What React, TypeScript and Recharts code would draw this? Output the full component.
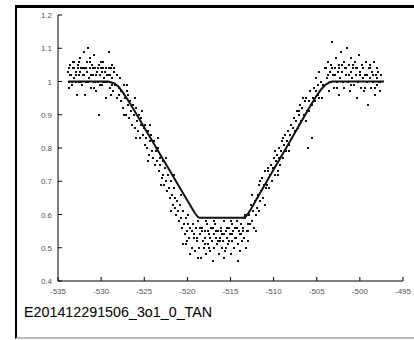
import React from 'react';
import { ScatterChart, Scatter, XAxis, YAxis } from 'recharts';

// axis ticks
const xTicks = [-535, -530, -525, -520, -515, -510, -505, -500, -495];
const yTicks = [0.4, 0.5, 0.6, 0.7, 0.8, 0.9, 1, 1.1, 1.2];

const preIngress: [number, number][] = [
    [-533.83, 1.03], [-533.71, 1.0], [-533.64, 1.05], [-533.52, 1.02], [-533.38, 0.99], [-533.31, 1.04], [-533.17, 1.01], [-533.09, 1.06], [-532.97, 1.0], [-532.88, 1.03],
    [-532.76, 0.96], [-532.69, 1.05], [-532.57, 1.02], [-532.46, 1.0], [-532.42, 1.07], [-532.28, 1.04], [-532.19, 0.99], [-532.07, 1.02], [-531.98, 1.09], [-531.91, 1.04],
    [-531.78, 1.0], [-531.69, 1.06], [-531.61, 1.03], [-531.48, 1.1], [-531.37, 1.01], [-531.29, 1.04], [-531.22, 0.98], [-531.08, 1.05], [-530.99, 1.02], [-530.87, 1.0],
    [-530.81, 1.08], [-530.68, 1.04], [-530.59, 0.97], [-530.51, 1.03], [-530.38, 1.0], [-530.27, 0.9], [-530.19, 1.05], [-530.11, 1.02], [-529.98, 1.04], [-529.87, 0.99],
    [-529.82, 1.06], [-529.69, 1.01], [-529.58, 1.03], [-529.47, 0.95], [-529.41, 1.04], [-529.28, 1.0], [-529.21, 1.02], [-529.09, 1.09], [-528.98, 0.98], [-528.91, 1.04],
    [-528.78, 1.01], [-528.72, 1.05], [-528.59, 0.97], [-528.48, 1.03],
    [-533.77, 1.04], [-533.58, 1.02], [-533.34, 1.0], [-533.13, 1.04], [-532.93, 1.02], [-532.72, 1.04], [-532.53, 1.06], [-532.33, 1.0], [-532.14, 1.04], [-531.94, 1.02],
    [-531.73, 1.04], [-531.56, 1.0], [-531.33, 1.06], [-531.14, 1.02], [-530.94, 1.04], [-530.73, 1.0], [-530.56, 1.02], [-530.33, 1.04], [-530.16, 0.99], [-529.93, 1.03],
    [-529.74, 1.04], [-529.53, 1.0], [-529.36, 1.02], [-529.13, 1.04], [-528.94, 1.02], [-528.74, 0.99], [-528.53, 1.04],
    [-533.67, 0.98], [-532.62, 1.0], [-531.84, 0.96], [-530.86, 0.98], [-529.84, 1.0], [-528.86, 0.96], [-533.23, 1.06], [-531.26, 1.07], [-530.03, 1.06], [-532.44, 1.03],
];

const ingress: [number, number][] = [
    [-528.37, 0.99], [-528.21, 1.02], [-528.12, 0.95], [-527.98, 0.98], [-527.83, 1.01], [-527.71, 0.94], [-527.64, 0.97], [-527.52, 0.92], [-527.38, 0.99], [-527.27, 0.95],
    [-527.15, 0.9], [-527.04, 0.97], [-526.93, 0.93], [-526.86, 0.96], [-526.72, 0.89], [-526.61, 0.94], [-526.53, 0.91], [-526.39, 0.87], [-526.28, 0.93], [-526.17, 0.9],
    [-526.05, 0.86], [-525.96, 0.92], [-525.84, 0.88], [-525.73, 0.85], [-525.62, 0.9], [-525.55, 0.83], [-525.41, 0.87], [-525.33, 0.89], [-525.19, 0.84], [-525.08, 0.86],
    [-524.97, 0.81], [-524.88, 0.87], [-524.74, 0.83], [-524.66, 0.8], [-524.52, 0.85], [-524.43, 0.78], [-524.31, 0.82], [-524.22, 0.84], [-524.09, 0.79], [-523.98, 0.77],
    [-523.87, 0.82], [-523.79, 0.75], [-523.65, 0.79], [-523.54, 0.76], [-523.46, 0.8], [-523.32, 0.73], [-523.21, 0.77], [-523.13, 0.75], [-522.99, 0.71], [-522.88, 0.76],
    [-522.77, 0.72], [-522.69, 0.69], [-522.56, 0.74], [-522.44, 0.7], [-522.36, 0.67], [-522.23, 0.72], [-522.14, 0.68], [-522.02, 0.65], [-521.91, 0.7], [-521.83, 0.66],
    [-521.71, 0.63], [-521.6, 0.68], [-521.48, 0.62], [-521.39, 0.65], [-521.27, 0.6], [-521.16, 0.64], [-521.07, 0.61], [-520.95, 0.58], [-520.84, 0.63], [-520.76, 0.59],
    [-520.63, 0.56], [-520.52, 0.61], [-520.41, 0.57], [-520.33, 0.54], [-520.21, 0.59], [-520.1, 0.55], [-520.02, 0.52], [-519.89, 0.57], [-519.78, 0.53], [-519.66, 0.56],
    [-527.9, 0.96], [-526.98, 0.99], [-526.12, 0.95], [-525.22, 0.91], [-524.35, 0.87], [-523.42, 0.83], [-522.5, 0.77], [-521.55, 0.72], [-520.7, 0.66], [-519.95, 0.6],
    [-527.35, 0.9], [-525.9, 0.83], [-524.6, 0.76], [-523.05, 0.69], [-521.95, 0.61], [-520.45, 0.51],
];

const bottom: [number, number][] = [
    [-519.52, 0.55], [-519.41, 0.5], [-519.33, 0.57], [-519.19, 0.53], [-519.08, 0.49], [-518.97, 0.56], [-518.86, 0.52], [-518.78, 0.58], [-518.64, 0.5], [-518.53, 0.54],
    [-518.45, 0.47], [-518.31, 0.56], [-518.22, 0.52], [-518.11, 0.5], [-517.99, 0.55], [-517.92, 0.53], [-517.81, 0.48], [-517.68, 0.57], [-517.6, 0.51], [-517.49, 0.54],
    [-517.37, 0.49], [-517.29, 0.56], [-517.18, 0.52], [-517.06, 0.46], [-516.97, 0.54], [-516.88, 0.5], [-516.76, 0.57], [-516.65, 0.53], [-516.57, 0.51], [-516.44, 0.55],
    [-516.36, 0.48], [-516.24, 0.53], [-516.13, 0.56], [-516.02, 0.5], [-515.94, 0.54], [-515.83, 0.52], [-515.71, 0.58], [-515.62, 0.49], [-515.53, 0.55], [-515.41, 0.53],
    [-515.3, 0.51], [-515.21, 0.56], [-515.09, 0.54], [-514.98, 0.48], [-514.87, 0.57], [-514.79, 0.52], [-514.66, 0.55], [-514.57, 0.5], [-514.45, 0.56], [-514.34, 0.53],
    [-514.26, 0.58], [-514.14, 0.51], [-514.03, 0.55], [-513.95, 0.49], [-513.82, 0.57], [-513.73, 0.54], [-513.61, 0.52], [-513.52, 0.56], [-513.4, 0.53], [-513.31, 0.59],
    [-513.22, 0.5], [-513.1, 0.55], [-513.02, 0.57], [-519.27, 0.54], [-518.92, 0.53], [-518.58, 0.56], [-518.27, 0.55], [-517.95, 0.51], [-517.63, 0.55], [-517.33, 0.53],
    [-517.02, 0.56], [-516.71, 0.55], [-516.42, 0.52], [-516.07, 0.55], [-515.78, 0.54], [-515.46, 0.56], [-515.16, 0.52], [-514.83, 0.54], [-514.5, 0.53], [-514.2, 0.56],
    [-513.88, 0.54], [-513.56, 0.55], [-518.72, 0.47], [-517.86, 0.58], [-516.93, 0.58], [-515.75, 0.47], [-514.9, 0.58], [-514.08, 0.46], [-513.27, 0.6], [-517.53, 0.5],
    [-516.18, 0.52], [-515.48, 0.5], [-520.15, 0.51], [-519.7, 0.48], [-512.95, 0.52],
];

const egress: [number, number][] = [
    [-512.92, 0.55], [-512.81, 0.6], [-512.73, 0.57], [-512.62, 0.63], [-512.48, 0.58], [-512.39, 0.61], [-512.27, 0.56], [-512.18, 0.64], [-512.06, 0.6], [-511.97, 0.62],
    [-511.85, 0.66], [-511.74, 0.61], [-511.66, 0.69], [-511.53, 0.64], [-511.42, 0.67], [-511.31, 0.71], [-511.22, 0.65], [-511.09, 0.69], [-510.98, 0.73], [-510.87, 0.68],
    [-510.76, 0.69], [-510.64, 0.73], [-510.55, 0.68], [-510.43, 0.72], [-510.31, 0.75], [-510.22, 0.7], [-510.1, 0.74], [-509.99, 0.77], [-509.88, 0.72], [-509.77, 0.76],
    [-509.63, 0.78], [-509.55, 0.73], [-509.42, 0.77], [-509.34, 0.8], [-509.21, 0.75], [-509.1, 0.79], [-508.98, 0.82], [-508.87, 0.77], [-508.76, 0.81], [-508.64, 0.84],
    [-508.53, 0.79], [-508.41, 0.82], [-508.32, 0.85], [-508.19, 0.81], [-508.08, 0.84], [-507.96, 0.87], [-507.85, 0.83], [-507.74, 0.86], [-507.62, 0.89], [-507.51, 0.85],
    [-507.43, 0.88], [-507.3, 0.91], [-507.19, 0.86], [-507.07, 0.9], [-506.95, 0.93], [-506.84, 0.88], [-506.73, 0.92], [-506.61, 0.95], [-506.52, 0.9], [-506.4, 0.94],
    [-506.28, 0.95], [-506.17, 0.91], [-506.03, 0.8], [-505.94, 0.94], [-505.82, 0.97], [-505.71, 0.93], [-505.6, 0.83], [-505.48, 0.95], [-505.37, 0.98], [-505.26, 0.94],
    [-505.14, 0.97], [-505.03, 1.01], [-504.91, 0.96], [-504.8, 0.99], [-504.69, 1.03], [-504.57, 0.97], [-504.46, 1.0], [-504.34, 0.95], [-504.22, 0.99], [-504.1, 1.04],
    [-512.55, 0.66], [-511.6, 0.7], [-510.7, 0.74], [-509.8, 0.79], [-508.9, 0.83], [-508.0, 0.87], [-507.1, 0.91], [-506.3, 0.88], [-505.5, 0.93], [-504.7, 0.95],
    [-512.1, 0.55], [-510.95, 0.63], [-509.5, 0.72], [-508.2, 0.79], [-507.0, 0.87], [-505.9, 0.91],
];

const postEgress: [number, number][] = [
    [-503.92, 1.04], [-503.83, 1.01], [-503.69, 1.06], [-503.61, 0.97], [-503.48, 1.03], [-503.37, 1.0], [-503.31, 1.05], [-503.18, 1.12], [-503.07, 1.02], [-502.98, 0.98],
    [-502.89, 1.04], [-502.77, 1.07], [-502.68, 1.0], [-502.59, 1.03], [-502.47, 0.96], [-502.38, 1.05], [-502.29, 1.01], [-502.17, 1.09], [-502.08, 1.03], [-501.97, 1.0],
    [-501.88, 1.06], [-501.79, 0.98], [-501.68, 1.04], [-501.57, 1.02], [-501.49, 1.1], [-501.38, 1.0], [-501.27, 1.05], [-501.19, 0.97], [-501.07, 1.03], [-500.98, 1.07],
    [-500.88, 1.01], [-500.77, 1.04], [-500.69, 0.99], [-500.58, 1.06], [-500.47, 1.02], [-500.39, 0.95], [-500.28, 1.04], [-500.17, 1.0], [-500.08, 1.08], [-499.97, 1.03],
    [-499.88, 0.98], [-499.79, 1.05], [-499.67, 1.01], [-499.58, 1.04], [-499.47, 0.97], [-499.39, 1.02], [-499.28, 1.06], [-499.18, 1.0], [-499.07, 0.93], [-498.98, 1.04],
    [-498.87, 1.01], [-498.78, 1.05], [-498.67, 0.98], [-498.58, 1.03], [-498.49, 1.0], [-498.37, 1.06], [-498.29, 0.96], [-498.18, 1.02], [-498.07, 1.04], [-497.98, 0.99],
    [-497.87, 1.03], [-497.79, 1.0], [-497.68, 0.97], [-497.57, 1.02],
    [-503.64, 1.02], [-503.23, 1.04], [-502.84, 1.02], [-502.43, 1.04], [-502.03, 1.05], [-501.63, 1.04], [-501.23, 1.02], [-500.83, 1.05], [-500.43, 1.04], [-500.03, 1.02],
    [-499.63, 1.04], [-499.23, 1.02], [-498.83, 1.04], [-498.43, 1.02], [-498.03, 1.01], [-497.63, 1.0], [-502.63, 0.98], [-501.03, 0.99], [-499.43, 0.98], [-498.23, 0.98],
];

// fitted transit model
const modelTime = [-533.8, -529.2, -528.5, -528, -527.5, -527, -526.5, -526, -525, -524, -523, -522, -521, -520, -519.5, -519.1, -518.8, -518.6,
    -513.5, -513.2, -512.9, -512.5, -512, -511, -510, -509, -508, -507, -506, -505.5, -505, -504.5, -504, -503.5, -503.2, -497.2];
const modelFlux = [1, 1, 0.995, 0.985, 0.968, 0.948, 0.928, 0.906, 0.862, 0.818, 0.774, 0.73, 0.686, 0.642, 0.62, 0.603, 0.593, 0.59,
    0.59, 0.595, 0.605, 0.622, 0.645, 0.69, 0.735, 0.78, 0.825, 0.87, 0.915, 0.937, 0.958, 0.976, 0.99, 0.998, 1, 1];

const observed = [...preIngress, ...ingress, ...bottom, ...egress, ...postEgress].map(([x, y]) => ({ x, y }));
const model = modelTime.map((x, i) => ({ x, y: modelFlux[i] }));

const FONT = '"Liberation Sans", Arial, sans-serif';
const TICK = 4;

const BottomTick = ({ x, y, payload }: any) => (
    <g>
        <line x1={x} x2={x} y1={y} y2={y - TICK} stroke="#000" />
        <text x={x} y={y + 13} textAnchor="middle" fontSize={8} fill="#555" fontFamily={FONT}>{payload.value}</text>
    </g>
);
const TopTick = ({ x, y }: any) => <line x1={x} x2={x} y1={y} y2={y + TICK} stroke="#000" />;
const LeftTick = ({ x, y, payload }: any) => (
    <g>
        <line x1={x} x2={x + TICK} y1={y} y2={y} stroke="#000" />
        <text x={x - 6} y={y + 3} textAnchor="end" fontSize={8} fill="#555" fontFamily={FONT}>{payload.value}</text>
    </g>
);
const RightTick = ({ x, y }: any) => <line x1={x} x2={x - TICK} y1={y} y2={y} stroke="#000" />;

// crisp 2px dots
const Dot = ({ cx, cy }: any) => <rect x={Math.round(cx) - 1} y={Math.round(cy) - 1} width={2} height={2} fill="#111" />;

const App: React.FC = () => {
    return (
        <div style={{ position: 'absolute', left: 0, top: 0, width: 414, height: 340, overflow: 'hidden', background: '#fff' }}>
            <ScatterChart width={414} height={340} margin={{ top: 15, right: 11, bottom: 29, left: 18 }}>
                <XAxis xAxisId="b" type="number" dataKey="x" domain={[-535, -495]} ticks={xTicks} interval={0}
                    orientation="bottom" height={30} tickSize={0} tickMargin={0} axisLine={{ stroke: '#000' }} tick={<BottomTick />} />
                <XAxis xAxisId="t" type="number" dataKey="x" domain={[-535, -495]} ticks={xTicks} interval={0}
                    orientation="top" height={0} tickSize={0} tickMargin={0} axisLine={{ stroke: '#000' }} tick={<TopTick />} />
                <YAxis yAxisId="l" type="number" dataKey="y" domain={[0.4, 1.2]} ticks={yTicks} interval={0}
                    orientation="left" width={40} tickSize={0} tickMargin={0} axisLine={{ stroke: '#000' }} tick={<LeftTick />} />
                <YAxis yAxisId="r" type="number" dataKey="y" domain={[0.4, 1.2]} ticks={yTicks} interval={0}
                    orientation="right" width={0} tickSize={0} tickMargin={0} axisLine={{ stroke: '#000' }} tick={<RightTick />} />
                <Scatter xAxisId="b" yAxisId="l" data={observed} shape={<Dot />} isAnimationActive={false} />
                <Scatter xAxisId="t" yAxisId="r" data={model} shape={() => <g />}
                    line={{ stroke: '#111', strokeWidth: 2 }} isAnimationActive={false} />
            </ScatterChart>
            <div style={{ position: 'absolute', left: 15, top: 5, width: 420, height: 334, boxSizing: 'border-box',
                borderLeft: '2px solid #000', borderTop: '3px solid #000', borderBottom: '2px solid #bbb', pointerEvents: 'none' }} />
            <div style={{ position: 'absolute', left: 24, top: 304.5, fontFamily: FONT, fontSize: 14.3, lineHeight: 1, color: '#000', whiteSpace: 'nowrap' }}>
                E201412291506_3o1_0_TAN
            </div>
        </div>
    );
};

export default App;
